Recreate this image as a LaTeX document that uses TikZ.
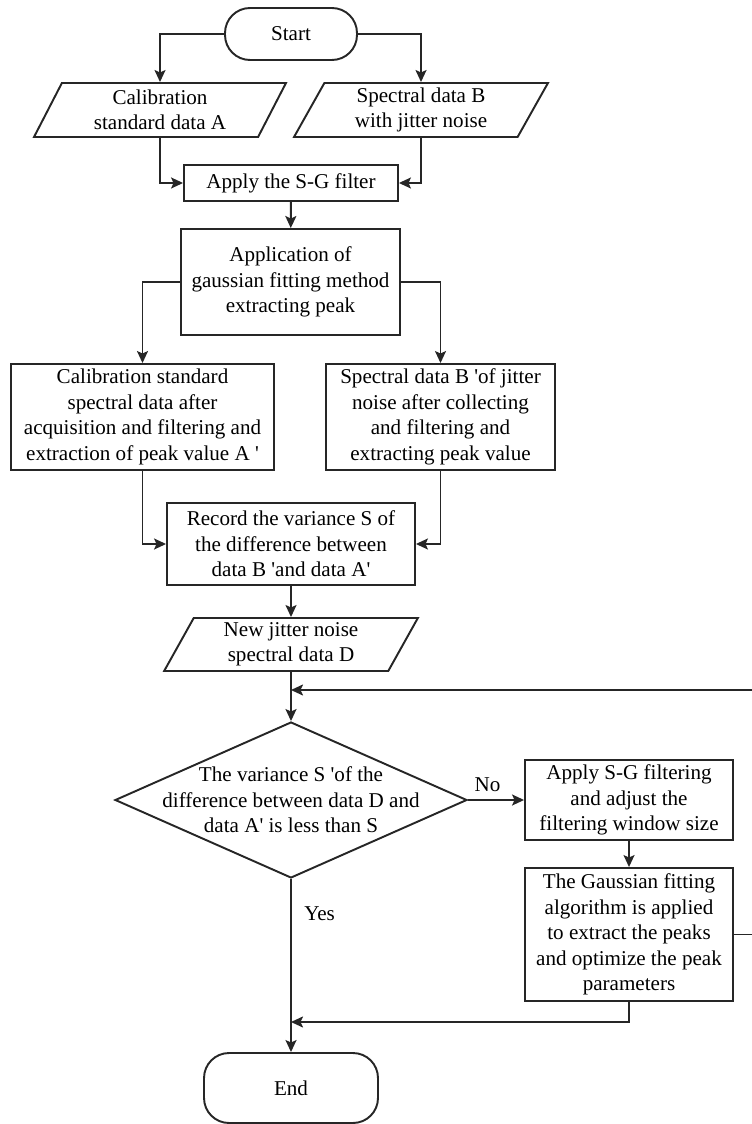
\documentclass[tikz,border=0pt]{standalone}
\usepackage{fontspec}
\setmainfont{Liberation Serif}
\usetikzlibrary{shapes.geometric,arrows.meta}
\newcommand{\sq}{\textquotesingle}

\begin{document}
\begin{tikzpicture}[x=0.02cm,y=-0.02cm]
\tikzset{
    base/.style={draw=black!85, line width=1.1pt, align=center, inner sep=0pt, font=\fontsize{12}{14.5}\selectfont},
    box/.style={base, rectangle},
    term/.style={base, rectangle, rounded corners=0.5cm},
    io/.style={base, trapezium, trapezium left angle=65, trapezium right angle=115, trapezium stretches=true},
    dec/.style={base, diamond},
    txt/.style={align=center, inner sep=0pt, font=\fontsize{12}{14.5}\selectfont},
    arr/.style={draw=black!85, line width=1.1pt, -{Stealth[length=2.4mm,width=2.2mm,inset=0.5mm]}}
}
\useasboundingbox (0,0) rectangle (751,1124);

% --- nodes ---
\node[term, minimum width=2.64cm, minimum height=1.04cm] (st) at (291,34) {Start};

\node[io, minimum width=5.06cm, minimum height=1.08cm] (inA) at (160,110) {Calibration\\standard data A};
\node[io, minimum width=5.08cm, minimum height=1.08cm] (inB) at (421,110) {Spectral data B\\with jitter noise};

\node[box, minimum width=4.28cm, minimum height=0.72cm] (sg) at (291,183) {Apply the S-G filter};
\node[box, minimum width=4.38cm, minimum height=2.12cm] (gf) at (290.5,282) {Application of\\gaussian fitting method\\extracting peak};

\node[box, minimum width=5.26cm, minimum height=2.12cm] (pA) at (142.5,417) {Calibration standard\\spectral data after\\acquisition and filtering and\\extraction of peak value A \sq};
\node[box, minimum width=4.58cm, minimum height=2.12cm] (pB) at (440.5,417) {Spectral data B \sq of jitter\\noise after collecting\\and filtering and\\extracting peak value};

\node[box, minimum width=4.96cm, minimum height=1.64cm] (rec) at (291,544) {Record the variance S of\\the difference between\\data B \sq and data A\sq};
\node[io, minimum width=5.08cm, minimum height=1.06cm] (inD) at (291,644.5) {New jitter noise\\spectral data D};

\node[dec, minimum width=7.04cm, minimum height=3.12cm] (dec) at (291,800) {};
\node[txt] (dectxt) at (dec) {The variance S \sq of the\\difference between data D and\\data A\sq\ is less than S};

\node[box, minimum width=4.16cm, minimum height=1.6cm] (f1) at (629,800) {Apply S-G filtering\\and adjust the\\filtering window size};
\node[box, minimum width=4.16cm, minimum height=2.66cm] (f2) at (629,934.5) {The Gaussian fitting\\algorithm is applied\\to extract the peaks\\and optimize the peak\\parameters};

\node[term, minimum width=3.48cm, minimum height=1.4cm] (en) at (291,1088) {End};

\coordinate (m1) at (291,690);
\coordinate (m2) at (291,1022);
\coordinate (rt) at (762,690);

% --- edges (top part) ---
\draw[arr] (st.west) -| (inA.north);
\draw[arr] (st.east) -| (inB.north);
\draw[arr] (inA.south) |- (sg.west);
\draw[arr] (inB.south) |- (sg.east);
\draw[arr] (sg) -- (gf);
\draw[arr] (gf.west) -| (pA.north);
\draw[arr] (gf.east) -| (pB.north);
\draw[arr] (pA.south) |- (rec.west);
\draw[arr] (pB.south) |- (rec.east);
\draw[arr] (rec) -- (inD);

% --- edges (loop) ---
\draw[arr] (inD) -- (dec.north);
\draw[arr] (f2.east) -| (rt) -- (m1);
\draw[arr] (dec.east) -- node[txt, above=4pt, pos=0.35] (no) {No} (f1.west);
\draw[arr] (f1) -- (f2);
\draw[arr] (f2.south) |- (m2);
\draw[arr] (dec.south) -- node[txt, right=7pt, pos=0.2] (yes) {Yes} (en.north);
\end{tikzpicture}
\end{document}
